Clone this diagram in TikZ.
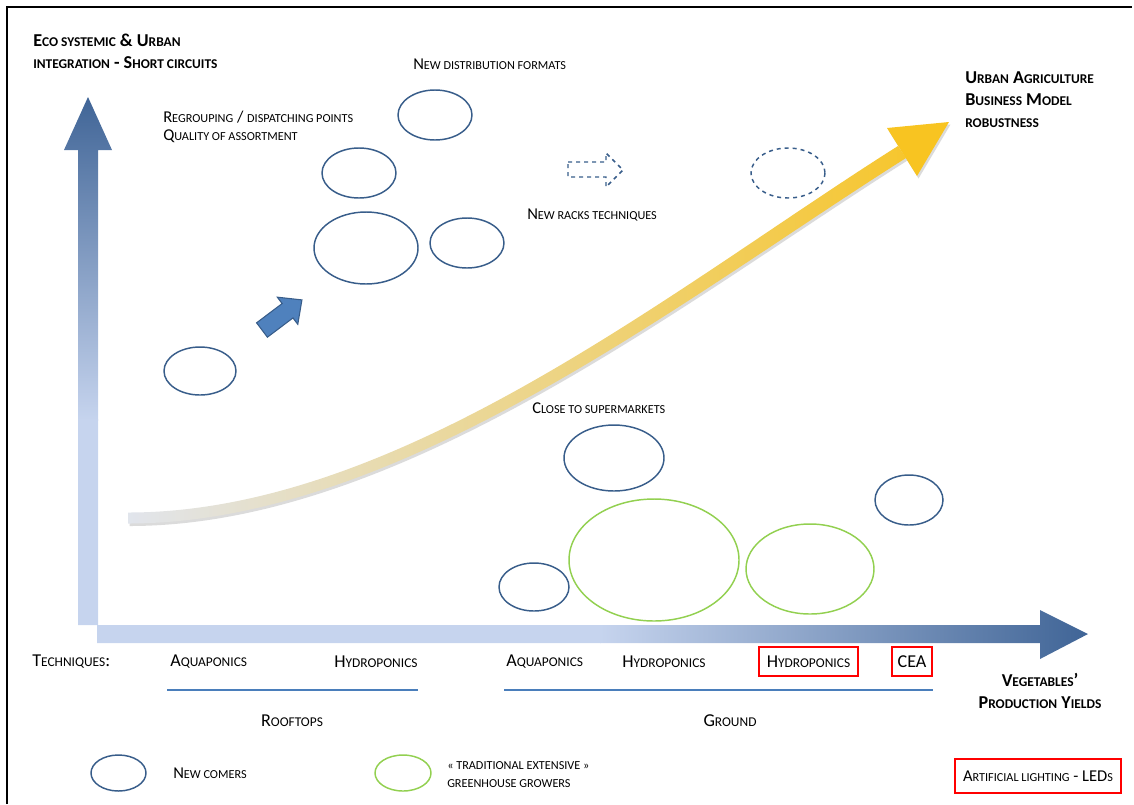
\documentclass[tikz,border=0pt]{standalone}
\usepackage{fontspec}
\setmainfont{Carlito}
\usetikzlibrary{positioning}
\definecolor{ecoblue}{HTML}{385D8A}
\definecolor{axdark}{HTML}{3F6496}
\definecolor{axlight}{HTML}{C6D4EE}
\definecolor{growgreen}{HTML}{92D050}
\definecolor{arrowfill}{HTML}{4F81BD}
\definecolor{trendgrey}{HTML}{E1E5EE}
\definecolor{trendtan}{HTML}{E8DDB2}
\definecolor{trendyellow}{HTML}{F8C421}
\definecolor{ruleblue}{HTML}{4A7EBB}
\makeatletter
\newcommand{\fsc}[1]{{\fontsize{\fpeval{0.74*\f@size}}{\f@baselineskip}\selectfont\MakeUppercase{#1}}}
\makeatother

\begin{document}
\begin{tikzpicture}[x=0.75pt, y=-0.75pt,
  txt/.style={anchor=west, inner sep=0pt, align=left, font=\fontsize{12.4}{13.5}\selectfont},
  axlbl/.style={txt, font=\fontsize{13.6}{16}\selectfont},
  head/.style={txt, font=\bfseries\fontsize{13.6}{16.5}\selectfont},
  newc/.style={draw=ecoblue, line width=1.1pt},
  trad/.style={draw=growgreen, line width=1.1pt},
  redbox/.style={axlbl, anchor=center, draw=red, line width=1.4pt, minimum height=21.75pt}]
\useasboundingbox (0,0) rectangle (1134,804);
\draw[line width=1.5pt] (6.5,804) -- (6.5,6.5) -- (1132,6.5);

% axes
\begin{scope}
\clip (78,625) -- (78,150) -- (64,150) -- (88,97) -- (112,150) -- (98,150) -- (98,625) -- cycle;
\shade[top color=axdark, bottom color=axlight] (60,95) rectangle (115,420);
\fill[axlight] (60,419) rectangle (115,630);
\end{scope}
\begin{scope}
\clip (97,625) -- (1040,625) -- (1040,610) -- (1088,634) -- (1040,659) -- (1040,643) -- (97,643) -- cycle;
\fill[axlight] (95,605) rectangle (601,662);
\shade[left color=axlight, right color=axdark] (600,605) rectangle (1090,662);
\end{scope}

% trend arrow
\begin{scope}[shift={(1.5,2.5)}]
\fill[black!14] (128,512.5) .. controls (400,512.5) and (676,286) .. (898,146) -- (906,158)
  .. controls (684,298) and (400,523.5) .. (128,523.5) -- cycle;
\fill[black!14] (887,128) -- (949,122) -- (917,176) -- cycle;
\end{scope}
\begin{scope}
\clip (128,512.5) .. controls (400,512.5) and (676,286) .. (898,146) -- (906,158)
  .. controls (684,298) and (400,523.5) .. (128,523.5) -- cycle;
\shade[left color=trendgrey, middle color=trendtan, right color=trendyellow] (120,100) rectangle (960,530);
\end{scope}
\fill[trendyellow] (887,128) -- (949,122) -- (917,176) -- cycle;

% growers
\draw[newc] (435,115) ellipse [x radius=37, y radius=25];
\draw[newc] (359,173) ellipse [x radius=37, y radius=25];
\draw[newc] (366,248) ellipse [x radius=52, y radius=36];
\draw[newc] (467,243) ellipse [x radius=37, y radius=25];
\draw[newc] (200,371) ellipse [x radius=36, y radius=24];
\draw[newc, dashed] (788,173) ellipse [x radius=37, y radius=25];
\draw[newc] (614,458) ellipse [x radius=50, y radius=33];
\draw[newc] (909,500) ellipse [x radius=34, y radius=25];
\draw[newc] (534,587) ellipse [x radius=35, y radius=24];
\draw[trad] (654,560) ellipse [x radius=85, y radius=61];
\draw[trad] (810,569) ellipse [x radius=64, y radius=45];

\begin{scope}[shift={(262,330)}, rotate=37]
\filldraw[fill=arrowfill, draw=ecoblue, line width=0.8pt]
  (0,-9) -- (32,-9) -- (32,-17) -- (50,0) -- (32,17) -- (32,9) -- (0,9) -- cycle;
\end{scope}
\draw[newc, dashed] (568,162) -- (606,162) -- (606,153) -- (623,170) -- (606,187) -- (606,177) -- (568,177) -- cycle;

\node[head] (eco) at (33,51) {E\fsc{co systemic} \& U\fsc{rban}\\\fsc{integration} - S\fsc{hort circuits}};
\node[txt] (regroup) at (163,127) {R\fsc{egrouping} / \fsc{dispatching points}\\Q\fsc{uality of assortment}};
\node[txt] (distrib) at (413,64) {N\fsc{ew distribution formats}};
\node[txt] (racks) at (527,215) {N\fsc{ew racks techniques}};
\node[head] (robust) at (965,99.5) {U\fsc{rban} A\fsc{griculture}\\B\fsc{usiness} M\fsc{odel}\\\fsc{robustness}};
\node[txt] (superm) at (532,408) {C\fsc{lose to supermarkets}};

\node[axlbl] (techn) at (32,662) {T\fsc{echniques}:};
\node[axlbl] (aqroof) at (170,662) {A\fsc{quaponics}};
\node[axlbl] (hyroof) at (334,662) {H\fsc{ydroponics}};
\node[axlbl] (aqgr) at (506,662) {A\fsc{quaponics}};
\node[axlbl] (hygr) at (622,662) {H\fsc{ydroponics}};
\node[redbox, minimum width=74.25pt] (hyled) at (808.5,661.5) {H\fsc{ydroponics}};
\node[redbox, minimum width=30pt] (cea) at (912,661.5) {CEA};
\draw[ruleblue, line width=0.8pt] (167,690) -- (418,690);
\draw[ruleblue, line width=0.8pt] (504,690) -- (933,690);
\node[axlbl, anchor=center] (roof) at (292,721) {R\fsc{ooftops}};
\node[axlbl, anchor=center] (ground) at (730,721) {G\fsc{round}};
\node[head, anchor=center, align=center] (yields) at (1040,691) {V\fsc{egetables}’\\P\fsc{roduction} Y\fsc{ields}};

% legend
\draw[newc] (118.5,773) ellipse [x radius=27.5, y radius=18];
\node[txt] (newcomer) at (173,773) {N\fsc{ew comers}};
\draw[trad] (403,773) ellipse [x radius=28, y radius=18];
\node[txt] (tradgrow) at (447,775) {\fsc{« traditional extensive »}\\\fsc{greenhouse growers}};
\node[redbox, font=\fontsize{12.4}{13.5}\selectfont, minimum width=124.5pt, minimum height=25.5pt] (ledbox) at (1038,776) {A\fsc{rtificial lighting} - LED\fsc{s}};
\end{tikzpicture}
\end{document}
